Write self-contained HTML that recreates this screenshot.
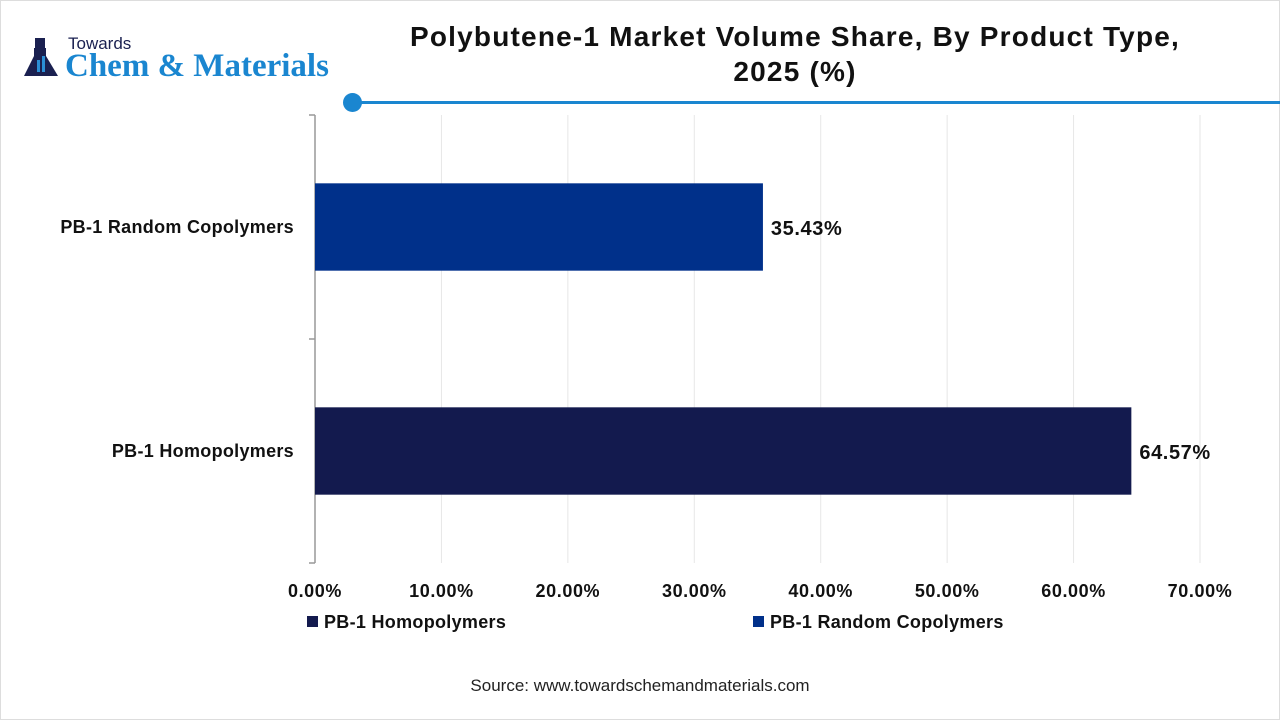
<!DOCTYPE html>
<html><head><meta charset="utf-8"><style>
body{margin:0;width:1280px;height:720px;background:#fff;font-family:"Liberation Sans",sans-serif;overflow:hidden;position:relative}
.t{position:absolute;white-space:nowrap}
</style></head><body>
<div style="position:absolute;left:0;top:0;width:1278px;height:718px;border:1px solid #ddd"></div>
<div style="position:absolute;left:22px;top:34px;width:320px;height:50px">
 <svg width="40" height="46" viewBox="0 0 40 46" style="position:absolute;left:0;top:2px"><rect x="13" y="2" width="10" height="10" fill="#1a2050"/><path d="M12 12 L24 12 L24 20 L36 40 L2 40 L12 20Z" fill="#1a2050"/><rect x="15" y="24" width="3" height="12" fill="#2b8fd6"/><rect x="20" y="20" width="3" height="16" fill="#2b8fd6"/></svg>
 <div class="t" style="left:46px;top:0;font-size:17px;color:#1a2050">Towards</div>
 <div class="t" style="left:43px;top:14px;font-family:'Liberation Serif',serif;font-weight:bold;font-size:33px;color:#1a86d0">Chem &amp; Materials</div>
</div>
<div class="t" style="left:380px;width:830px;top:19px;text-align:center;font-size:28px;letter-spacing:1.2px;font-weight:bold;line-height:35px;color:#111">Polybutene-1 Market Volume Share, By Product Type,<br>2025 (%)</div>
<div style="position:absolute;left:352px;top:101px;width:928px;height:3px;background:#1a86d0"></div>
<div style="position:absolute;left:343px;top:93px;width:19px;height:19px;border-radius:50%;background:#1a86d0"></div>
<svg id="chart" width="1280" height="720" style="position:absolute;left:0;top:0"></svg>
<div class="t" style="left:0;width:1280px;top:676px;text-align:center;font-size:17px;color:#222">Source: www.towardschemandmaterials.com</div>
<script>
const categories=["PB-1 Random Copolymers","PB-1 Homopolymers"];
const values=[35.43,64.57];
const colors=["#00308a","#131a4e"];
const ticks=[0,10,20,30,40,50,60,70];
const legendLabels=["PB-1 Homopolymers","PB-1 Random Copolymers"];
const legendColors=["#131a4e","#00308a"];
const NS="http://www.w3.org/2000/svg";
const svg=document.getElementById('chart');
const x0=315,x1=1200,yTop=115,yBot=563;
const xs=v=>x0+(v-0)/(70-0)*(x1-x0);
const band=(yBot-yTop)/categories.length;
function mk(t,a){const e=document.createElementNS(NS,t);for(const k in a)e.setAttribute(k,a[k]);svg.appendChild(e);return e;}
ticks.forEach(v=>{
 const g=mk('line',{x1:xs(v),x2:xs(v),y1:yTop,y2:yBot,stroke:'#e6e6e6'});
 
 
 const t=mk('text',{x:xs(v),y:597,'text-anchor':'middle','font-size':18,'letter-spacing':0.6,'font-weight':'bold',fill:'#111'});
 t.textContent=v.toFixed(2)+'%';
 
 
});
const ax=mk('line',{x1:x0,x2:x0,y1:yTop,y2:yBot,stroke:'#999','stroke-width':1.5});


for(let i=0;i<=categories.length;i++){const y=yTop+i*band;const tk=mk('line',{x1:x0-6,x2:x0,y1:y,y2:y,stroke:'#999','stroke-width':1.5});
 
 }
categories.forEach((c,i)=>{
 const yc=yTop+band*(i+0.5),h=band*0.39;
 const r=mk('rect',{x:x0,y:yc-h/2,width:xs(values[i])-x0,height:h,fill:colors[i]});
 
 
 const l=mk('text',{x:x0-21,y:yc+6,'text-anchor':'end','font-size':18,'letter-spacing':0.3,'font-weight':'bold',fill:'#111'});
 l.textContent=c;
 
 
 const v=mk('text',{x:xs(values[i])+8,y:yc+8,'font-size':20,'letter-spacing':0.6,'font-weight':'bold',fill:'#111'});
 v.textContent=values[i].toFixed(2)+'%';
 
 
});
const lx=[307,753];
legendLabels.forEach((n,i)=>{
 const s=mk('rect',{x:lx[i],y:616,width:11,height:11,fill:legendColors[i]});
 
 
 const t=mk('text',{x:lx[i]+17,y:628,'font-size':18,'letter-spacing':0.3,'font-weight':'bold',fill:'#111'});
 t.textContent=n;
 
 
});
</script>
</body></html>
